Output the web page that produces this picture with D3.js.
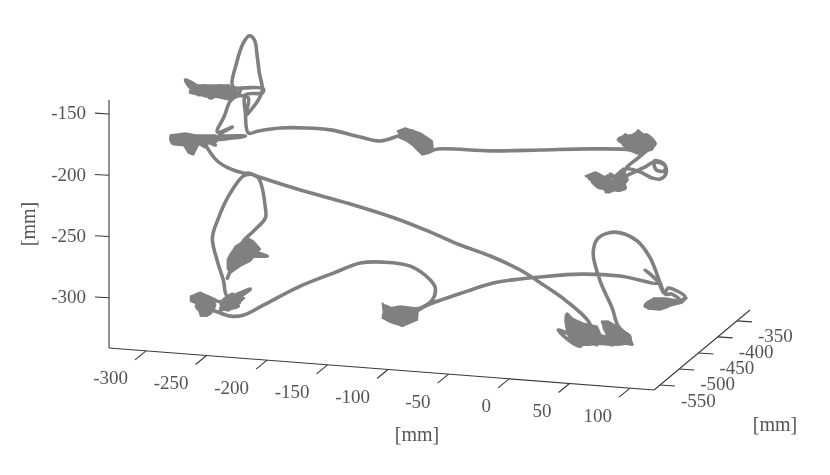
<!DOCTYPE html>
<html><head><meta charset="utf-8">
<script src="https://cdnjs.cloudflare.com/ajax/libs/d3/7.8.5/d3.min.js"></script>
<style>html,body{margin:0;padding:0;background:#fff}svg{display:block;filter:blur(0.4px)}</style>
</head><body><svg id="c" width="830" height="475"></svg>
<script>
const xTicks = [-300,-250,-200,-150,-100,-50,0,50,100];
const yTicks = [-550,-500,-450,-400,-350];
const zTicks = [-150,-200,-250,-300];
const axisLabel = "[mm]";
const traceDepth = -450;
const traceX = [
30.3,36.1,41.9,32,39.4,44.4,48.5,43.6,51.8,46.9,55.1,51.8,59.3,53.5,60.1,71.6,81.6,88.2,93.1,91.5,83.2,84.9,91.5,92.3,84,74.1,63.4,56.8,60.1,70,79.9,84,
76.6,79.9,70,73.3,63.4,68.3,59.3,65,53.5,66.7,79.9,75,70,63.4,
30.3,-11,-52.3,-96,
-106,-101,-111.7,-106,-116.7,-106.8,-120,-113.4,-123.3,-110,-128.3,-118.3,-116.7,-128.3,
-143.1,-159.6,-184.4,-205,-225.7,-243.9,-252.2,-254.6,-254.6,-240.6,-239.8,-262.9,
-265.4,-273.6,-268.7,-279.4,-275.3,-287.7,-281.9,-293.5,-288.5,-297.6,-304.2,-293.5,-300,-289.3,-283.5,-271.2,-262.9,-258.8,
-265.4,-262.1,-256.3,-251.3,-247.2,-244.7,-243.1,-240.6,-243.9,-252.2,-254.6,-252.2,-261.2,-267,-272,-277.8,-265.4,-276.1,
-254.6,-271.2,-283.5,-279.4,-291.8,-287.7,-300,-295.9,-308.3,-301.7,-315.8,-314.9,-304.2,-297.6,-300,-287.7,
-286,-277.8,-267,-256.3,-248.8,-256.3,-269.5,-276.9,-281.9,-277.8,-272.8,-269.5,
-250.5,-262.9,-256.3,-268.7,-260.4,-273.6,-265.4,-275.3,-267,
-277.8,-287.7,-281.9,-293.5,-298.4,-283.5,-291.8,-287.7,-295.1,-285.2,-280.2,-291,-279.4,
-267,-256.3,-239.8,-209.2,-181.9,-159.6,-140.6,-118.3,-101.8,-97.7,-100.2,-110.1,
-116.7,-124.9,-130.7,-120,-139.8,-134.9,-126.6,-139.8,-128.3,-118.3,-113.4,-122.5,-111.7,
-104.3,-71.3,-49.8,-27.5,-11,22.1,55.1,86.5,75.8,86.5,91.5,94.8,102.2,108.8,103,92.3,79.9,75.8,84,79.9,92.3,98.1,104.7,98.1,92.3,88.2,
79.9,69.2,51,37,32.8,38.6,48.5,53.5,
63.4,40.3,56.8,46.9,65,38.6,48.5,30.3,35.3,11.3,32,13.8,27,10.5,23.7,3.9,22.1,26.2,30.3,
9.7,-6.8,-27.5,-52.3,-77,-101.8,-129.1,-167.9,-209.2,-240.6,-252.2,-243.9,-238.1,-238.1,-248,-256.3,
-258.8,-248.8,-265.4,-246.4,-258.8,-252.2,-267,-250.5,-236.5,-254.6,-265.4,-258.8,-262.1,-253.8,-267,-269.5
];
const traceZ = [
-205.8,-201.3,-206.5,-207.3,-212.4,-202.3,-210.1,-215.4,-206.6,-200.5,-208,-213.2,-210.9,-201.6,-195.4,-197,-201.1,-201.4,-196.1,-188.9,-187.1,-194.3,-194.6,-190.5,-187.8,-193.5,-199.2,-203,-194.6,-185.6,-176.7,-173.1,
-166.3,-176.7,-163.6,-178.9,-168.1,-177.6,-167.6,-176.2,-172.2,-174.5,-170.1,-177.1,-181.5,-179.6,
-181.3,-185.3,-189.2,-191,
-194.9,-186.4,-193,-182.7,-187.6,-191,-179.7,-191.5,-177.4,-185.4,-182.7,-185.3,-177.8,-182.7,
-188,-186,-182.1,-182.1,-183.7,-187.5,-189.8,-173.7,-158.9,-156.2,-152.8,-154.6,
-155.7,-161.2,-152.6,-160,-153.1,-162.3,-155.2,-161.8,-154.1,-158.1,-150.4,-156.1,-159.1,-159.1,-163.6,-156.1,-160.4,-155.2,
-152.4,-134.1,-116.6,-110.4,-113.4,-127.9,-140.1,-153.8,-162.1,-173.5,-176.1,-161.2,-160.3,-164.8,-177.4,-190.9,-185.9,-193.2,
-192.4,-196.1,-198.7,-201.7,-197.7,-203.9,-196.7,-205.4,-196.5,-204.2,-197,-202.8,-203.5,-209.5,-201.6,-201.5,
-204.7,-214.6,-220.3,-222.8,-223,-225.2,-244.2,-261.1,-277.8,-296.3,-311.5,-324.3,
-317,-327,-324.9,-334,-331.7,-329.5,-322.3,-336.1,-331.4,
-329,-325.7,-335,-324.4,-330.6,-329.5,-339,-330.6,-334.4,-340.2,-331.6,-334.9,-337.3,
-340.4,-338.8,-329.3,-311.5,-298.8,-288.9,-286.7,-288.3,-298.4,-304.6,-314.6,-321.9,
-324,-337,-324.3,-332.5,-322.5,-333.6,-324.8,-330.7,-335.5,-325.8,-328.7,-329.4,-323.7,
-319,-305.1,-296.8,-291.9,-289,-284.1,-283.1,-286.4,-276.7,-285.6,-294.3,-289.9,-291.8,-296.2,-300.8,-300.8,-301.7,-306.1,-306.3,-303.3,-305.7,-302,-299.9,-294.6,-295,-286.3,
-266.5,-253.5,-247.6,-253.5,-266,-288.5,-309.8,-324.2,
-333.2,-321.9,-337.8,-327.9,-338,-333.4,-340,-331.6,-341.1,-317.6,-338,-324.7,-340.9,-322.5,-336.2,-331.1,-342.9,-331.9,-325.1,
-306.2,-296.1,-284.5,-275,-267.9,-259.2,-250.6,-241.3,-233.1,-225.7,-222.5,-225.9,-250,-258.1,-269.6,-278.3,
-284.3,-280.2,-294.6,-284.9,-294.1,-278,-291.4,-290.1,-289.1,-288,-301.1,-282.6,-297.5,-283.9,-303.6,-309.6
];

// Regions where the trace dwells so densely that it reads as a solid patch.
const upperPatchX = [-304.2,-295.9,-285.2,-271.2,-264.5,-258.8,-268.7,-279.4,-290.1,-300.9,-297.6,-302.5];
const upperPatchZ = [-149.6,-153.9,-153.1,-152,-153.9,-159.2,-164,-162.5,-162.5,-160.8,-157.2,-152.7];
const lowerPatchX = [-316.6,-304.2,-295.9,-279.4,-275.3,-279.4,-293.5,-297.6,-301.7,-305.8,-314.9];
const lowerPatchZ = [-196.3,-193.7,-194.7,-193.5,-195.6,-200.1,-202.7,-211.2,-209.9,-203.7,-201.1];
const midPatchX = [-269.5,-262.9,-252.2,-248,-242.2,-250.5,-258.8,-267,-269.5];
const midPatchZ = [-294,-282.9,-275.6,-277.7,-283.8,-294.2,-299,-305.3,-302.2];
const floorLeftPatchX = [-300,-291.8,-285.2,-279.4,-281.1,-286,-291.8,-294.3,-300];
const floorLeftPatchZ = [-326.6,-322.7,-325.5,-327.5,-333.3,-341.9,-342.3,-332.7,-330.7];
const floorMidPatchX = [-275.3,-268.7,-258.8,-258.8,-268.7,-275.3];
const floorMidPatchZ = [-328.8,-324.2,-323.5,-329.2,-336.4,-335.3];
const centrePatchX = [-141.5,-137.3,-126.6,-111.7,-112.6,-124.9,-136.5,-141.5,-140.6];
const centrePatchZ = [-320.2,-324,-321.5,-322.1,-331.9,-337.8,-334.6,-332.4,-326.7];
const bottomAPatchX = [9.7,24.6,36.1,40.3,46.9,38.6,28.7,20.4,13.8,11.3,9.7];
const bottomAPatchZ = [-318.5,-323.9,-325.5,-335,-340.2,-340,-341.6,-342.2,-338.6,-333.1,-325];
const bottomBPatchX = [40.3,45.2,55.1,63.4,65,55.1,46.9,43.6,41.1];
const bottomBPatchZ = [-321.1,-320.7,-325.6,-330.7,-337.2,-339.5,-340.2,-331.4,-326.7];
const rightPatchX = [75.8,82.4,92.3,102.2,110.5,106.3,96.4,88.2,78.2];
const rightPatchZ = [-305.3,-299.1,-298.3,-299.1,-296.9,-301.3,-304.5,-308.4,-308.4];
const topRightPatchX = [53.5,59.3,63.4,70,77.4,84,81.6,71.6,63.4,57.6];
const topRightPatchZ = [-170.6,-167.6,-168.1,-163.6,-167,-173.9,-178.2,-181.4,-180.4,-176.8];
const endPatchX = [26.2,34.5,49.4,51,57.6,61.7,56.8,45.2,36.1];
const endPatchZ = [-203.6,-199.8,-206,-201,-194.8,-204.2,-211.1,-216.1,-210.3];
const topMidPatchX = [-129.1,-122.5,-110.1,-100.2,-99.3,-108.4,-115.9,-124.9];
const topMidPatchZ = [-178.8,-175.8,-178.9,-184.7,-192.8,-196.8,-190,-184.2];
const patches = [
  [upperPatchX, upperPatchZ], [lowerPatchX, lowerPatchZ], [midPatchX, midPatchZ],
  [floorLeftPatchX, floorLeftPatchZ], [floorMidPatchX, floorMidPatchZ], [centrePatchX, centrePatchZ],
  [bottomAPatchX, bottomAPatchZ], [bottomBPatchX, bottomBPatchZ], [rightPatchX, rightPatchZ],
  [topRightPatchX, topRightPatchZ], [endPatchX, endPatchZ], [topMidPatchX, topMidPatchZ]
];

const xDom = [-330.6, 119.8], yDom = [-565.6, -316], zDom = [-341, -138.6];
// Each scale gives that axis's screen displacement from the box corner.
const xPx = d3.scaleLinear().domain(xDom).range([0, 545]);
const xDrop = d3.scaleLinear().domain(xDom).range([0, 42]);
const yPx = d3.scaleLinear().domain(yDom).range([0, 96]);
const yRise = d3.scaleLinear().domain(yDom).range([0, -80]);
const zPx = d3.scaleLinear().domain(zDom).range([0, -248]);
const corner = [109, 348];
const project = (x, y, z) => [
  corner[0] + xPx(x) + yPx(y),
  corner[1] + xDrop(x) + yRise(y) + zPx(z)
];

const svg = d3.select("#c");
const axisCol = "#3a3a3a", textCol = "#555555", traceCol = "#808080";
const serif = "'Liberation Serif','Times New Roman',serif";
const seg = (a, b) => svg.append("line").attr("x1", a[0]).attr("y1", a[1]).attr("x2", b[0]).attr("y2", b[1])
  .attr("stroke", axisCol).attr("stroke-width", 1.1);
const label = (p, t, anchor, size) => svg.append("text").attr("x", p[0]).attr("y", p[1])
  .attr("text-anchor", anchor).attr("dominant-baseline", "central")
  .attr("font-family", serif).attr("font-size", size).attr("fill", textCol).text(t);

const yF = yDom[0], yB = yDom[1], zB = zDom[0], zT = zDom[1], xL = xDom[0], xR = xDom[1];
seg(project(xL, yF, zB), project(xL, yF, zT));
seg(project(xL, yF, zB), project(xR, yF, zB));
seg(project(xR, yF, zB), project(xR, yB, zB));

zTicks.forEach(z => {
  const p = project(xL, yF, z);
  seg(p, [p[0] - 14, p[1] - 0.8]);
  label([p[0] - 23, p[1] - 1], z, "end", 19);
});
xTicks.forEach(x => {
  const p = project(x, yF, zB);
  seg(p, [p[0] - 11, p[1] + 9]);
  label([p[0] - 18, p[1] + 27], x, "end", 19);
});
yTicks.forEach(y => {
  const p = project(xR, y, zB);
  seg(p, [p[0] + 15, p[1] + 1]);
  label([p[0] + 21, p[1] + 15], y, "start", 19);
});
label([417, 434], axisLabel, "middle", 20);
label([775, 424], axisLabel, "middle", 20);
label([0, 0], axisLabel, "middle", 20).attr("transform", "translate(28,224) rotate(-90)");

const patchPath = d3.line().curve(d3.curveLinearClosed);
patches.forEach(([xs, zs]) => {
  svg.append("path")
    .attr("d", patchPath(xs.map((x, i) => project(x, traceDepth, zs[i]))))
    .attr("fill", traceCol).attr("stroke", traceCol).attr("stroke-width", 1.5).attr("stroke-linejoin", "round");
});
const line = d3.line().curve(d3.curveCatmullRom.alpha(0.5));
svg.append("path")
  .attr("d", line(traceX.map((x, i) => project(x, traceDepth, traceZ[i]))))
  .attr("fill", "none").attr("stroke", traceCol).attr("stroke-width", 3.6)
  .attr("stroke-linejoin", "round").attr("stroke-linecap", "round");
</script></body></html>
